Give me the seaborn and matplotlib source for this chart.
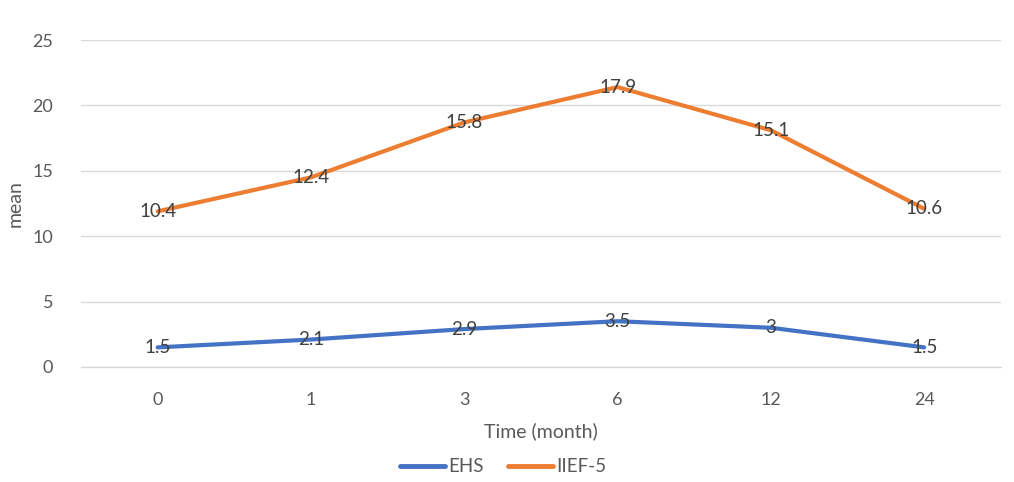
import pandas as pd
import matplotlib.pyplot as plt
import seaborn as sns
import numpy as np

months = ['0', '1', '3', '6', '12', '24']
ehs = [1.5, 2.1, 2.9, 3.5, 3, 1.5]
iief5 = [10.4, 12.4, 15.8, 17.9, 15.1, 10.6]
series_names = ['EHS', 'IIEF-5']
colors = ['#4472C4', '#ED7D31']

sns.set_theme(style='white')
plt.rcParams['font.family'] = ['Lato', 'DejaVu Sans']

# excel stacked line chart: the second series sits on top of the first
stacked = np.array(ehs) + np.array(iief5)
df = pd.DataFrame({
    'month': months * 2,
    'pos': list(range(len(months))) * 2,
    'value': list(ehs) + list(stacked),
    'label': [f'{v:g}' for v in ehs] + [f'{v:g}' for v in iief5],
    'series': [series_names[0]] * len(months) + [series_names[1]] * len(months),
})

fig = plt.figure(figsize=(10.14, 4.82), dpi=100)
ax = fig.add_axes([0.0799, 0.2386, 0.9071, 0.6784])

sns.lineplot(data=df, x='pos', y='value', hue='series', palette=colors,
             linewidth=3, ax=ax, legend=True, solid_capstyle='round', zorder=3)

for _, r in df.iterrows():
    ax.text(r['pos'], r['value'], r['label'], ha='center', va='center',
            fontsize=13.5, color='#404040', zorder=4)

ax.set_xlim(-0.5, len(months) - 0.5)
ax.set_ylim(0, 25)
ax.set_yticks(range(0, 26, 5))
ax.set_xticks(range(len(months)))
ax.set_xticklabels(months)
ax.grid(axis='y', color='#d9d9d9', linewidth=1)
ax.axhline(0, color='#d9d9d9', linewidth=1, clip_on=False, zorder=1)
ax.set_axisbelow(True)
for s in ax.spines.values():
    s.set_visible(False)
ax.tick_params(axis='y', labelsize=13, colors='#595959', length=0, pad=20)
ax.tick_params(axis='x', labelsize=13, colors='#595959', length=0, pad=18)
ax.set_xlabel('Time (month)', fontsize=14, color='#595959', labelpad=10)
ax.set_ylabel('mean', fontsize=14, color='#595959', labelpad=6)

leg = ax.legend(loc='center', bbox_to_anchor=(0.459, -0.305), ncol=2, frameon=False,
                fontsize=13.5, handlelength=2.4, columnspacing=1.3, handletextpad=0.15)
for t in leg.get_texts():
    t.set_color('#595959')
for h in leg.get_lines():
    h.set_linewidth(3.5)

fig.savefig('out.png', dpi=100)
